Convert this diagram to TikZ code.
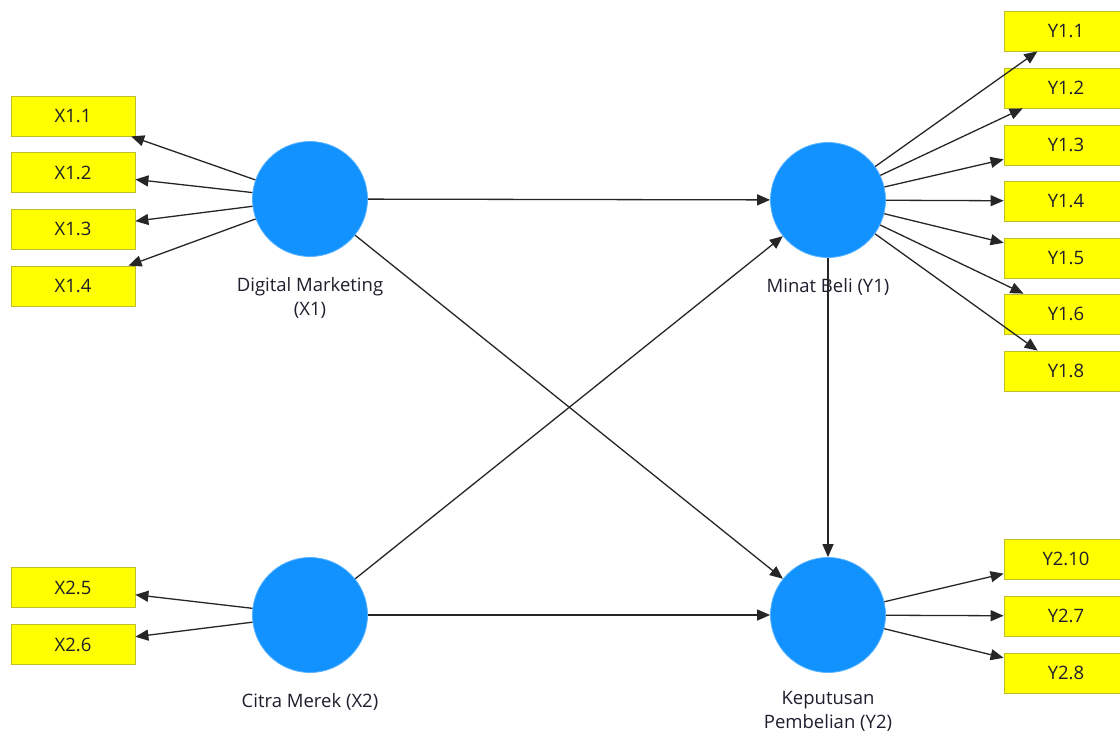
\documentclass[tikz,border=0pt]{standalone}
\usepackage{fontspec}
\setmainfont{Open Sans}
\usetikzlibrary{arrows.meta}
\definecolor{lvblue}{RGB}{18,146,255}
\definecolor{mvyellow}{RGB}{255,255,0}
\definecolor{mvborder}{RGB}{190,190,40}
\definecolor{txt}{RGB}{30,30,45}
\tikzset{
  lv/.style={circle, fill=lvblue, draw=lvblue!70!white, line width=0.8pt, minimum size=115pt, inner sep=0pt},
  mv/.style={rectangle, fill=mvyellow, draw=mvborder, line width=0.8pt, minimum width=124pt, minimum height=40pt, inner sep=0pt, text=txt, font=\fontsize{18.5}{22}\selectfont},
  lbl/.style={align=center, text=txt, font=\fontsize{18.5}{24}\selectfont, inner sep=0pt},
  arr/.style={draw=black!85, line width=1.3pt, -{Triangle[length=13pt,width=11pt]}}
}
\begin{document}
\begin{tikzpicture}[x=1pt,y=-1pt]
\useasboundingbox (0,0) rectangle (1120,740);
\fill[white] (0,0) rectangle (1120,740);
% latent variables
\node[lv] (X1) at (310,199) {};
\node[lv] (Y1) at (828,200) {};
\node[lv] (X2) at (310,615) {};
\node[lv] (Y2) at (828,615) {};
% labels
\node[lbl] (X1l) at (310,298) {Digital Marketing\\(X1)};
\node[lbl] (Y1l) at (828,287) {Minat Beli (Y1)};
\node[lbl] (X2l) at (310,702) {Citra Merek (X2)};
\node[lbl] (Y2l) at (828,711) {Keputusan\\Pembelian (Y2)};
% indicators left
\node[mv] (x11) at (73,116) {X1.1};
\node[mv] (x12) at (73,172.5) {X1.2};
\node[mv] (x13) at (73,229) {X1.3};
\node[mv] (x14) at (73,286) {X1.4};
\node[mv] (x25) at (73,587.5) {X2.5};
\node[mv] (x26) at (73,644.5) {X2.6};
% indicators right
\node[mv] (y11) at (1066,31) {Y1.1};
\node[mv] (y12) at (1066,88) {Y1.2};
\node[mv] (y13) at (1066,145) {Y1.3};
\node[mv] (y14) at (1066,201) {Y1.4};
\node[mv] (y15) at (1066,258) {Y1.5};
\node[mv] (y16) at (1066,314) {Y1.6};
\node[mv] (y18) at (1066,371) {Y1.8};
\node[mv] (y210) at (1066,559) {Y2.10};
\node[mv] (y27) at (1066,616) {Y2.7};
\node[mv] (y28) at (1066,673) {Y2.8};
% outer loadings
\foreach \t in {x11,x12,x13,x14} \draw[arr] (X1) -- (\t);
\foreach \t in {x25,x26} \draw[arr] (X2) -- (\t);
\foreach \t in {y11,y12,y13,y14,y15,y16,y18} \draw[arr] (Y1) -- (\t);
\foreach \t in {y210,y27,y28} \draw[arr] (Y2) -- (\t);
% structural paths
\draw[arr] (X1) -- (Y1);
\draw[arr] (X1) -- (Y2);
\draw[arr] (X2) -- (Y1);
\draw[arr] (X2) -- (Y2);
\draw[arr] (Y1) -- (Y2);
\end{tikzpicture}
\end{document}
